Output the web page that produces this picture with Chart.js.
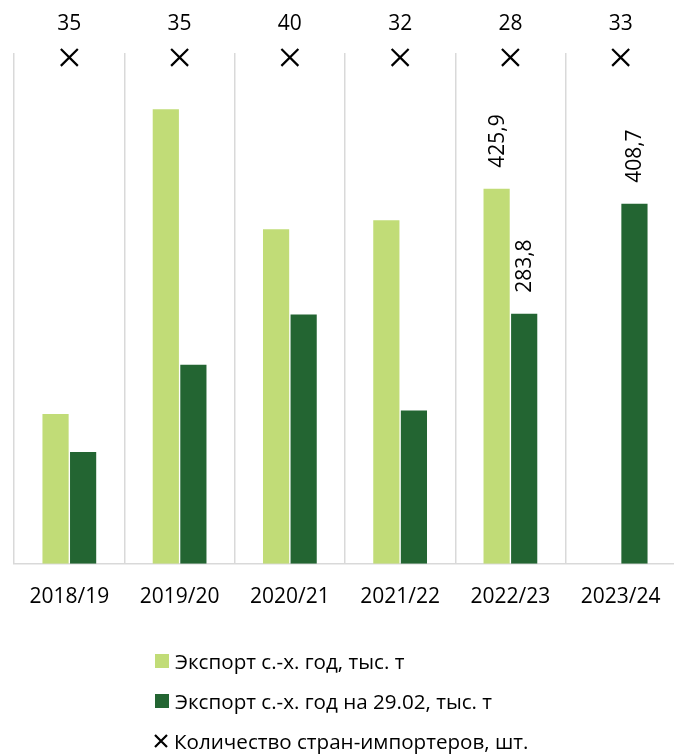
<!DOCTYPE html>
<html>
<head>
<meta charset="utf-8">
<script src="https://cdn.jsdelivr.net/npm/chart.js@4.4.1/dist/chart.umd.min.js"></script>
<style>
  html, body { margin: 0; padding: 0; background: #fff; overflow: hidden; }
  #wrap { position: relative; width: 690px; height: 651px; }
  #legend { position: absolute; left: 152px; top: 641px; font-family: "Open Sans", sans-serif; font-size: 20.6px; color: #000; }
  #legend .item { display: flex; align-items: center; height: 40px; }
  #legend .box { width: 14px; height: 14px; margin-right: 6px; margin-left: 3px; }
  #legend svg { margin-right: 4px; }
</style>
</head>
<body>
<div id="wrap"><canvas id="myChart"></canvas></div>
<div id="legend"></div>
<script>
const years = ['2018/19', '2019/20', '2020/21', '2021/22', '2022/23', '2023/24'];
const exportTotal = [170, 516, 380, 390, 425.9, null];
const exportToDate = [127, 226, 283, 174, 283.8, 408.7];
const importers = [35, 35, 40, 32, 28, 33];
const labeledYears = ['2022/23', '2023/24'];

// crosses sit in one row near the top of the plot, count is printed above
const MARKER_LEVEL = 575;

const FONT = '"Open Sans", sans-serif';
const fmt = v => v.toFixed(1).replace('.', ',');

const valueLabels = {
    id: 'valueLabels',
    afterDatasetsDraw(chart) {
        const ctx = chart.ctx;
        ctx.save();
        ctx.fillStyle = '#000';
        ctx.font = '21px ' + FONT;
        chart.data.datasets.forEach((ds, di) => {
            const meta = chart.getDatasetMeta(di);
            meta.data.forEach((el, i) => {
                if (ds.type === 'line') {
                    ctx.textAlign = 'center';
                    ctx.textBaseline = 'middle';
                    ctx.fillText(String(importers[i]), el.x, el.y - 33);
                } else if (labeledYears.includes(years[i]) && ds.data[i] != null) {
                    ctx.save();
                    ctx.translate(el.x + 1, el.y - 21);
                    ctx.rotate(-Math.PI / 2);
                    ctx.textAlign = 'left';
                    ctx.textBaseline = 'middle';
                    ctx.fillText(fmt(ds.data[i]), 0, 0);
                    ctx.restore();
                }
            });
        });
        ctx.restore();
    }
};

const ctx = document.getElementById('myChart').getContext('2d');

const data = {
    labels: years,
    datasets: [{
        type: 'bar',
        label: 'Экспорт с.-х. год, тыс. т',
        data: exportTotal,
        backgroundColor: '#c1dc77',
        categoryPercentage: 0.5,
        barPercentage: 0.95,
        order: 2
    }, {
        type: 'bar',
        label: 'Экспорт с.-х. год на 29.02, тыс. т',
        data: exportToDate,
        backgroundColor: '#236532',
        categoryPercentage: 0.5,
        barPercentage: 0.95,
        order: 2
    }, {
        type: 'line',
        label: 'Количество стран-импортеров, шт.',
        data: importers.map(() => MARKER_LEVEL),
        showLine: false,
        pointStyle: 'crossRot',
        pointRadius: 12,
        pointHoverRadius: 12,
        pointBorderWidth: 2.2,
        borderColor: '#000',
        backgroundColor: '#000',
        clip: false,
        order: 1
    }]
};

const config = {
    data: data,
    options: {
        responsive: true,
        maintainAspectRatio: false,
        animation: false,
        layout: { padding: { top: 53, left: 10, right: 0, bottom: 20 } },
        plugins: {
            legend: { display: false },
            tooltip: { enabled: false }
        },
        scales: {
            x: {
                grid: { display: true, offset: true, color: '#d9d9d9', lineWidth: 1.5, drawTicks: false },
                border: { display: true, color: '#d9d9d9', width: 1.5 },
                ticks: { color: '#000', font: { family: FONT, size: 21 }, padding: 21 }
            },
            y: {
                display: false,
                min: 0,
                max: 580
            }
        }
    },
    plugins: [valueLabels]
};

const chart = new Chart(ctx, config);

// legend below the chart, one item per row, left aligned
const legend = document.getElementById('legend');
chart.data.datasets.forEach(ds => {
    const item = document.createElement('div');
    item.className = 'item';
    if (ds.type === 'bar') {
        const box = document.createElement('span');
        box.className = 'box';
        box.style.background = ds.backgroundColor;
        item.appendChild(box);
    } else {
        item.insertAdjacentHTML('beforeend',
            '<svg width="18" height="18" viewBox="0 0 18 18"><path d="M3 3L15 15M15 3L3 15" stroke="#000" stroke-width="2.2"/></svg>');
    }
    const txt = document.createElement('span');
    txt.textContent = ds.label;
    item.appendChild(txt);
    legend.appendChild(item);
});
</script>
</body>
</html>
